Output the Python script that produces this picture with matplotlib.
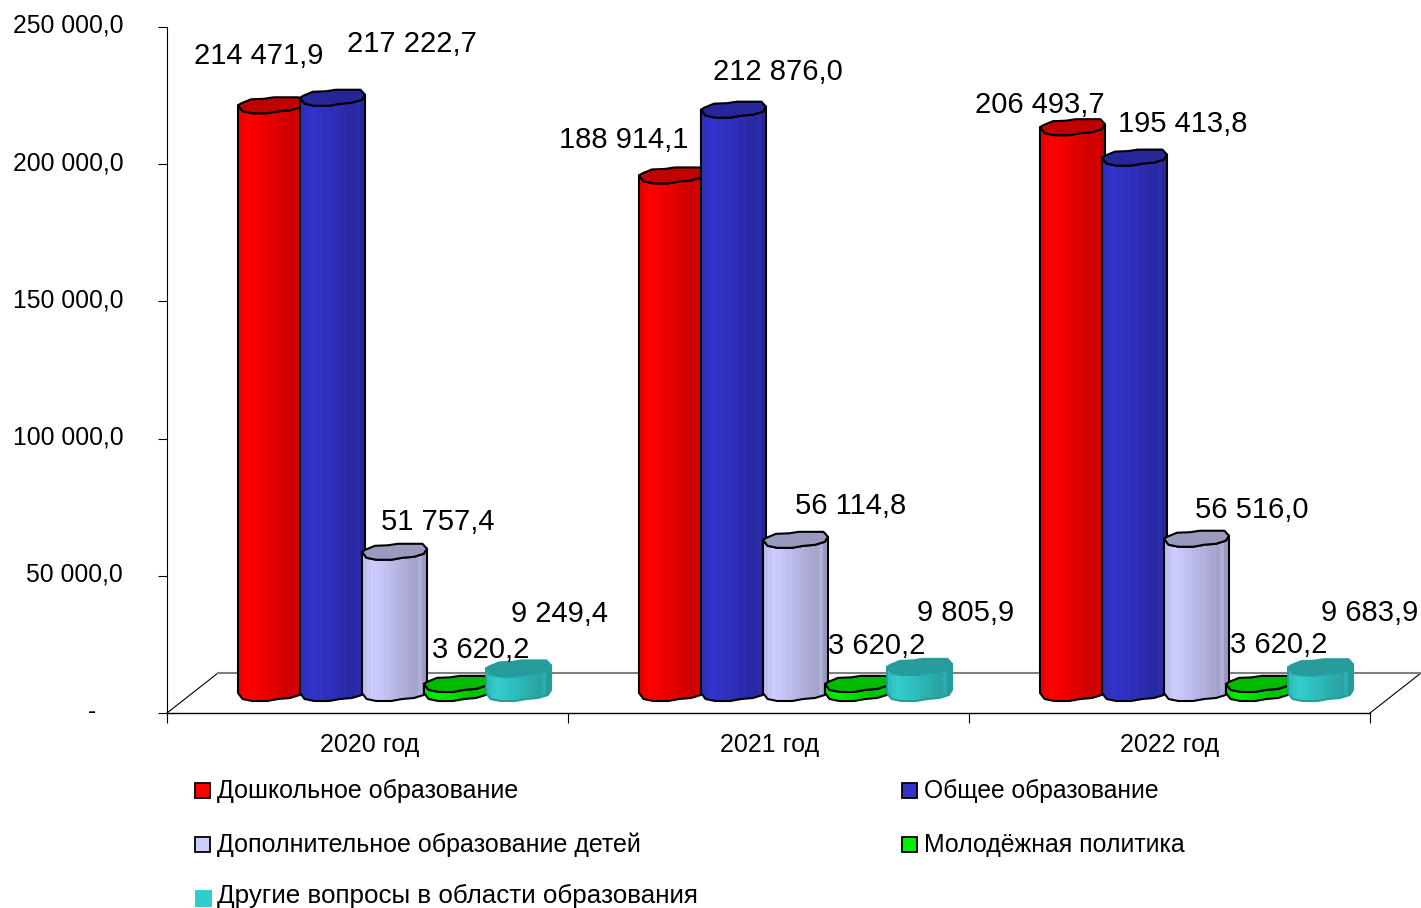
import matplotlib
matplotlib.use('Agg')
import matplotlib.pyplot as plt
from matplotlib.patches import Polygon, Rectangle
from matplotlib.colors import to_rgb
from matplotlib.transforms import ScaledTranslation

plt.rcParams['font.family'] = ['Liberation Sans', 'DejaVu Sans']

# данные
years = ['2020 год', '2021 год', '2022 год']
names = ['Дошкольное образование', 'Общее образование',
         'Дополнительное образование детей', 'Молодёжная политика',
         'Другие вопросы в области образования']
preschool = [214471.9, 188914.1, 206493.7]
general = [217222.7, 212876.0, 195413.8]
extra = [51757.4, 56114.8, 56516.0]
youth = [3620.2, 3620.2, 3620.2]
other = [9249.4, 9805.9, 9683.9]
series = [preschool, general, extra, youth, other]
yticks = [0, 50000, 100000, 150000, 200000, 250000]

colors = ['#ff0000', '#3333cc', '#ccccff', '#00ee00', '#33cccc']
caps = ['#c00000', '#262699', '#9a9abf', '#00bb00', '#269c9c']

# сдвиги подписей от центра верха столбика, пиксели
label_dx = [[-12, 79, 43, 24, 41], [-48, 44, 55, 19, 46], [-33, 48, 55, 20, 49]]
label_dy = [[48, 53, 29, 33, 54], [35, 37, 33, 37, 53], [21, 33, 28, 38, 53]]

# легенда: левый край маркера, базовая линия текста, размер шрифта
legend_x = [195, 902, 195, 902, 195]
legend_y = [798, 798, 852, 852, 903]
legend_size = [18, 17.75, 18, 17.9, 18.75]

W, H = 1421, 908
fig = plt.figure(figsize=(W / 100, H / 100), dpi=100)
ax = fig.add_axes([167 / W, 1 - 713 / H, (1370 - 167) / W, (713 - 27) / H])
ax.set_xlim(0, 3)
ax.set_ylim(0, 250000)

PX_Y = 250000 / 686  # единиц на пиксель
PX_X = 3 / 1203
BASE = 20 * PX_Y     # столбики стоят на середине пола
START = 71 * PX_X
STEP = 62 * PX_X
WIDTH = 65 * PX_X

upper = [(0, 0), (0.05, 2), (0.2, 6), (0.4, 6.5), (0.55, 8), (0.93, 8), (1, 3)]
lower = [(0, 0), (0.07, -6), (0.22, -8), (0.45, -8), (0.62, -6), (0.8, -5),
         (0.95, -2), (1, 3)]


def shade(c, k):
    return tuple(v * k for v in to_rgb(c))


def cylinder(x, value, color, cap, z, edge):
    top = BASE + value - 0.8 * PX_Y
    body = [(x + t * WIDTH, BASE + d * PX_Y) for t, d in lower]
    body += [(x + t * WIDTH, top + d * PX_Y) for t, d in reversed(lower)]
    outline = Polygon(body, closed=True, fc='none', ec=edge, lw=1.5, zorder=z + 0.2,
                      joinstyle='round')
    ax.add_patch(outline)
    # полосы градиента
    n = 14
    for j in range(n):
        t = j / n
        k = 0.93 + 0.07 * t / 0.15 if t < 0.15 else 1 - 0.27 * (t - 0.15) / 0.85
        if j == n - 2:
            k = k * 1.1
        b = ax.bar(x + t * WIDTH, top - BASE + 10 * PX_Y, width=WIDTH / n * 1.05,
                   bottom=BASE - 10 * PX_Y, align='edge',
                   color=[min(v, 1) for v in shade(color, k)], lw=0, zorder=z)
        b[0].set_clip_path(outline)
    top_shape = [(x + t * WIDTH, top + d * PX_Y) for t, d in upper]
    top_shape += [(x + t * WIDTH, top + d * PX_Y) for t, d in reversed(lower[1:-1])]
    ax.add_patch(Polygon(top_shape, closed=True, fc=cap, ec=edge, lw=1.5,
                         zorder=z + 0.3, joinstyle='round'))


def money(v):
    s = f'{v:,.1f}'
    return s.replace(',', ' ').replace('.', ',')


# пол
back = 40 * PX_Y
dx = 51 * PX_X
ax.plot([0, dx], [0, back], color='black', lw=0.8, clip_on=False, zorder=1)
ax.plot([3, 3 + dx], [0, back], color='black', lw=0.8, clip_on=False, zorder=1)
ax.plot([dx, 3 + dx], [back, back], color='#808080', lw=1.5, clip_on=False, zorder=1)

for i in range(len(years)):
    for s, vals in enumerate(series):
        x = i + START + s * STEP
        edge = caps[s] if s == 4 else 'black'
        cylinder(x, vals[i], colors[s], caps[s], 3 + s, edge)
        ax.annotate(money(vals[i]), xy=(x + WIDTH / 2, BASE + vals[i]),
                    xytext=(label_dx[i][s] * 0.72, label_dy[i][s] * 0.72),
                    textcoords='offset points', ha='center', va='center',
                    fontsize=21, zorder=20, annotation_clip=False)

# оси
ax.spines['top'].set_visible(False)
ax.spines['right'].set_visible(False)
ax.spines['left'].set_linewidth(0.8)
ax.spines['bottom'].set_linewidth(1.0)
ax.set_yticks(yticks)
ax.set_yticklabels(['-' + ' ' * 4] + [money(v) for v in yticks[1:]], fontsize=17.8)
ax.tick_params(axis='y', length=6.5, width=0.8, pad=25)
up = ScaledTranslation(0, 3.5 / 72 * 0.72, fig.dpi_scale_trans)
for lab in ax.get_yticklabels():
    lab.set_transform(lab.get_transform() + up)
ax.set_xticks([0, 1, 2, 3])
ax.set_xticklabels([])
ax.tick_params(axis='x', length=7, width=0.8)
ax.set_xticks([0.506, 1.503, 2.5], labels=years, minor=True, fontsize=18)
ax.tick_params(axis='x', which='minor', length=0, pad=14.5)
ax.patch.set_alpha(0)

# легенда
for s, name in enumerate(names):
    size = 17 if s == 4 else 15
    edge = colors[4] if s == 4 else 'black'
    top_y = legend_y[s] + 4 - size if s == 4 else legend_y[s] - size
    fig.add_artist(Rectangle((legend_x[s] / W, 1 - (top_y + size) / H), size / W, size / H,
                             fc=colors[s], ec=edge, lw=1.3 if s != 4 else 0,
                             transform=fig.transFigure))
    fig.text((legend_x[s] + 22) / W, 1 - legend_y[s] / H, name, fontsize=legend_size[s],
             ha='left', va='baseline')

fig.savefig('out.png', dpi=100)
